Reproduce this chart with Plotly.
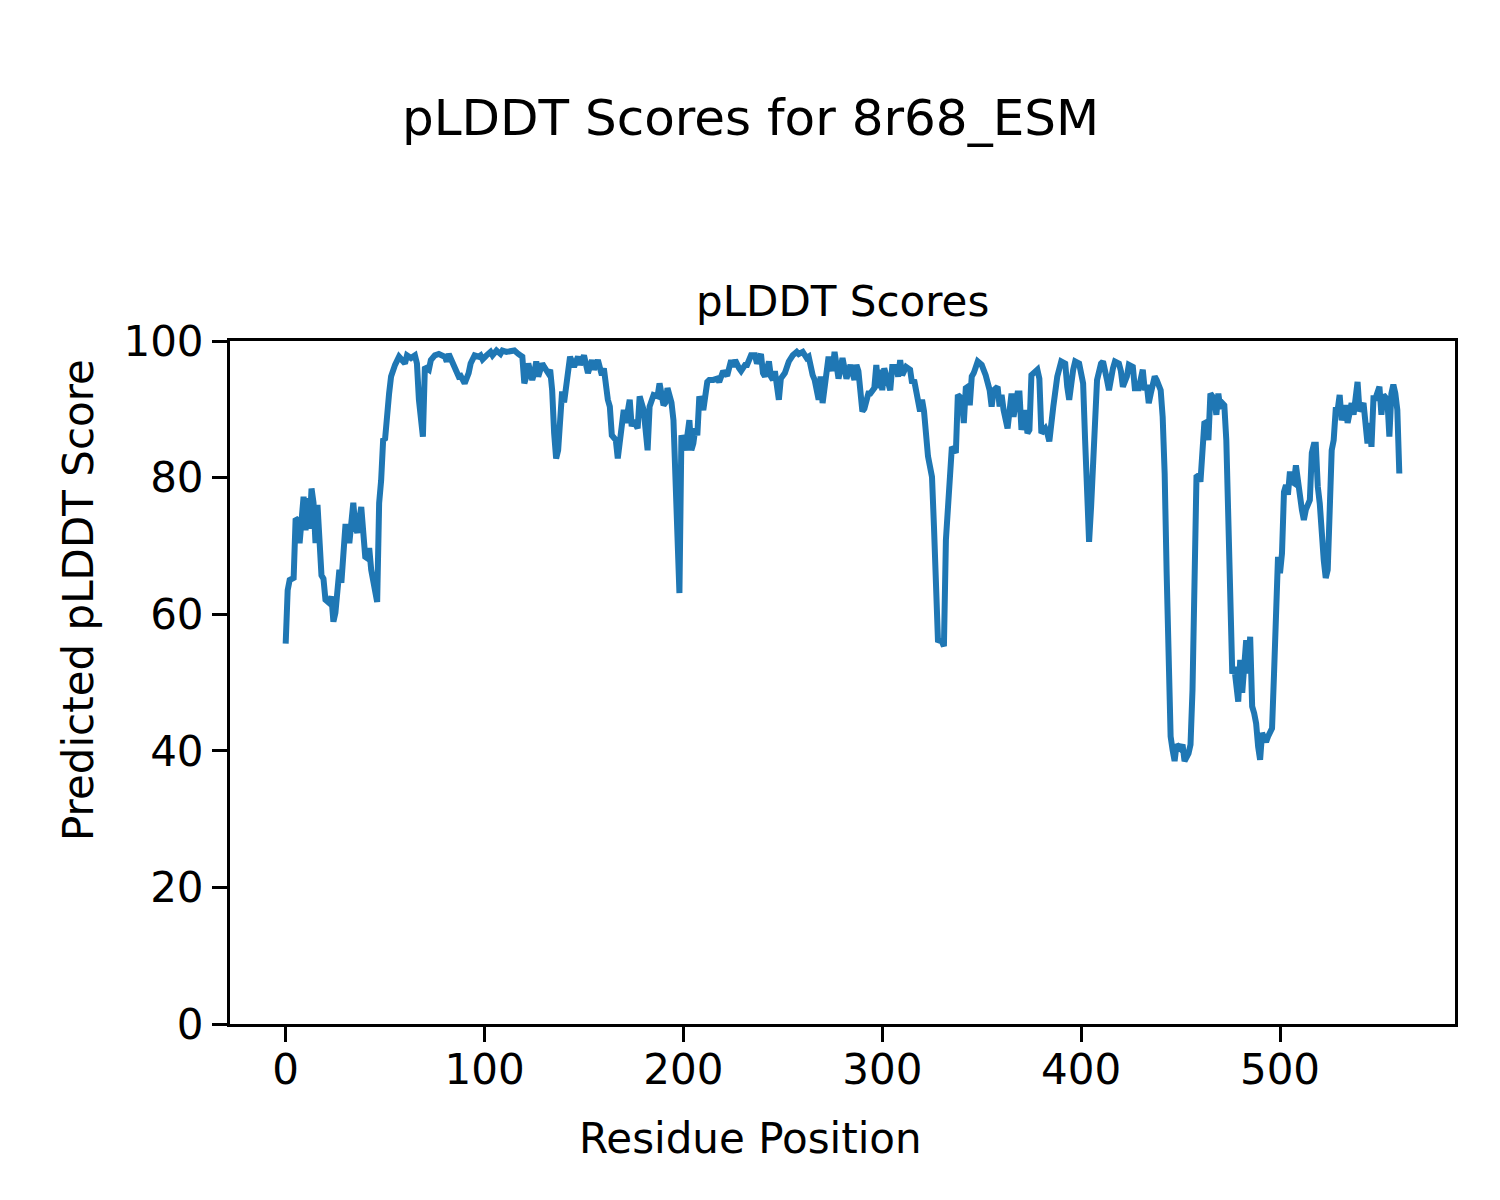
import plotly.graph_objects as go

# Data (residue position, pLDDT score)
residue_positions = [
    0, 1, 2, 4, 5, 6, 7, 8, 9, 10, 11, 12, 13, 14, 15, 16, 17, 18, 19, 20,
    22, 23, 24, 25, 27, 28, 30, 31, 32, 33, 34, 35, 36, 38, 39, 40, 41, 42, 43, 45,
    46, 47, 48, 49, 50, 52, 53, 55, 57, 60, 61, 63, 65, 66, 67, 69, 70, 72, 73, 75,
    77, 80, 81, 82, 83, 85, 86, 87, 88, 90, 92, 93, 95, 97, 98, 99, 101, 103, 104, 106,
    108, 109, 111, 113, 115, 117, 119, 120, 121, 122, 124, 125, 126, 127, 128, 129, 130, 132, 133, 134,
    135, 136, 137, 138, 139, 140, 141, 142, 143, 145, 147, 148, 150, 152, 154, 155, 157, 159, 160, 162,
    163, 164, 166, 167, 168, 170, 171, 172, 173, 174, 175, 177, 178, 180, 182, 183, 185, 187, 188, 190,
    191, 192, 194, 195, 196, 198, 199, 201, 202, 203, 204, 205, 206, 207, 208, 210, 212, 213, 215, 217,
    218, 220, 222, 224, 225, 226, 228, 229, 231, 232, 234, 236, 237, 239, 240, 241, 243, 244, 245, 246,
    248, 249, 251, 253, 255, 257, 258, 260, 262, 263, 265, 266, 268, 269, 270, 272, 273, 275, 276, 278,
    280, 282, 283, 284, 286, 287, 288, 290, 291, 293, 294, 296, 297, 298, 299, 300, 301, 303, 304, 305,
    307, 308, 309, 310, 312, 314, 315, 316, 319, 320, 321, 323, 325, 326, 328, 330, 331, 332, 333, 335,
    336, 337, 338, 340, 341, 342, 343, 344, 345, 346, 348, 350, 352, 354, 355, 356, 358, 359, 360, 361,
    363, 365, 366, 368, 369, 370, 372, 373, 374, 375, 378, 379, 380, 382, 383, 384, 386, 388, 390, 392,
    393, 394, 396, 397, 399, 401, 402, 403, 404, 405, 407, 408, 410, 411, 413, 414, 416, 417, 419, 420,
    421, 423, 424, 426, 427, 429, 431, 432, 433, 434, 435, 437, 438, 440, 441, 442, 443, 444, 445, 446,
    447, 448, 450, 451, 452, 454, 455, 456, 457, 458, 459, 460, 462, 463, 464, 465, 467, 468, 469, 470,
    471, 472, 473, 474, 476, 477, 478, 479, 480, 481, 483, 484, 485, 486, 487, 488, 489, 490, 491, 493,
    494, 495, 496, 497, 498, 499, 500, 501, 502, 503, 504, 505, 506, 507, 508, 509, 510, 511, 512, 513,
    515, 516, 517, 518, 519, 520, 522, 523, 524, 525, 526, 527, 528, 529, 530, 531, 533, 534, 536, 537,
    538, 539, 540, 542, 544, 545, 546, 547, 548, 550, 551, 552, 554, 555, 556, 557, 558, 559, 560,
]

plddt_scores = [
    55.7, 63.5, 65.0, 65.3, 74.0, 73.8, 70.4, 75.7, 77.2, 72.3, 77.0, 72.5, 78.4, 76.3, 70.4, 76.0, 71.0, 65.7, 65.2, 62.1,
    61.6, 62.6, 58.9, 60.2, 66.5, 64.6, 72.8, 72.8, 70.4, 74.3, 76.3, 72.8, 71.9, 75.7, 71.4, 68.4, 68.2, 69.7, 66.5, 63.1,
    61.8, 76.3, 79.6, 85.5, 85.7, 92.3, 94.8, 96.5, 97.7, 96.7, 97.9, 97.5, 97.9, 96.7, 91.4, 86.0, 96.2, 95.8, 97.2, 97.9,
    98.1, 97.7, 97.0, 98.1, 97.5, 95.8, 95.6, 94.8, 94.9, 93.8, 95.3, 96.7, 97.9, 97.7, 97.9, 97.3, 97.9, 98.4, 97.9, 98.6,
    98.1, 98.6, 98.4, 98.6, 98.6, 98.1, 97.7, 93.8, 94.8, 96.7, 94.3, 95.3, 97.0, 94.8, 96.2, 96.7, 96.2, 95.3, 95.8, 92.8,
    86.5, 82.8, 84.0, 90.4, 92.6, 91.0, 93.3, 96.2, 97.7, 96.2, 97.7, 96.5, 97.9, 95.3, 97.2, 95.8, 97.2, 95.0, 96.0, 91.4,
    90.4, 86.2, 85.5, 82.8, 85.5, 89.9, 88.0, 90.4, 91.4, 87.5, 88.4, 87.2, 91.9, 89.9, 84.0, 90.4, 92.1, 91.9, 93.8, 90.6,
    91.0, 93.1, 91.0, 88.4, 79.2, 63.1, 86.2, 84.0, 86.2, 88.4, 84.0, 85.0, 87.2, 86.2, 91.9, 89.9, 94.0, 94.3, 94.3, 94.5,
    94.0, 95.6, 94.9, 97.2, 96.2, 97.2, 96.0, 95.6, 96.5, 96.5, 97.9, 97.9, 96.7, 98.1, 95.3, 94.8, 97.0, 94.8, 94.3, 95.6,
    91.4, 94.5, 95.3, 97.0, 97.9, 98.4, 98.1, 98.4, 97.5, 97.7, 95.0, 94.3, 91.4, 94.8, 90.9, 95.8, 97.7, 95.6, 98.4, 94.5,
    97.5, 94.5, 95.7, 96.5, 94.3, 96.5, 95.6, 89.7, 90.1, 92.3, 92.3, 93.1, 96.5, 93.1, 95.8, 92.8, 96.0, 93.8, 92.8, 96.2,
    96.2, 94.8, 97.2, 95.0, 96.2, 95.8, 93.8, 94.3, 89.7, 91.4, 89.7, 83.1, 80.1, 72.8, 56.2, 56.0, 55.3, 70.9, 76.7, 84.5,
    84.1, 83.6, 92.1, 91.6, 88.0, 93.1, 93.3, 90.6, 94.8, 95.3, 97.0, 96.5, 95.0, 92.8, 90.4, 92.8, 93.3, 90.4, 92.1, 89.9,
    87.2, 92.3, 88.9, 92.3, 92.3, 87.0, 89.9, 86.5, 87.0, 95.0, 95.8, 94.5, 86.5, 87.2, 86.5, 85.3, 90.4, 94.8, 97.0, 96.7,
    93.3, 91.4, 95.8, 97.0, 96.7, 93.8, 85.5, 75.7, 70.6, 75.7, 86.5, 94.3, 96.7, 97.0, 94.3, 92.8, 96.0, 97.0, 96.7, 95.6,
    93.3, 94.8, 96.5, 96.2, 93.1, 93.1, 95.8, 92.8, 93.6, 90.9, 92.3, 94.8, 94.3, 92.8, 88.9, 80.6, 66.0, 51.3, 42.1, 40.1,
    38.5, 40.9, 40.3, 40.9, 38.5, 39.6, 40.9, 48.9, 61.1, 80.1, 80.3, 79.4, 88.2, 88.0, 85.5, 92.3, 91.5, 89.2, 92.3, 90.1,
    90.9, 90.6, 85.5, 75.7, 51.3, 52.3, 48.9, 47.2, 53.3, 48.5, 56.2, 51.3, 56.7, 46.5, 45.5, 44.0, 40.6, 38.7, 42.6, 41.3,
    42.1, 42.6, 43.3, 51.3, 57.7, 68.4, 66.0, 68.9, 77.9, 78.9, 77.5, 80.9, 79.4, 79.2, 81.8, 79.6, 76.2, 75.3, 73.8, 75.3,
    76.7, 83.6, 84.8, 84.8, 78.7, 76.2, 67.9, 65.3, 66.5, 78.2, 84.0, 85.5, 89.9, 89.9, 92.1, 88.4, 90.6, 88.0, 90.9, 89.2,
    91.0, 94.0, 89.7, 90.9, 85.0, 88.0, 84.5, 91.6, 91.6, 93.3, 89.2, 92.1, 91.4, 86.0, 92.3, 93.6, 92.3, 89.9, 80.6,
]

x_ticks = [0, 100, 200, 300, 400, 500]
y_ticks = [0, 20, 40, 60, 80, 100]

suptitle = "pLDDT Scores for 8r68_ESM"
axes_title = "pLDDT Scores"
x_label = "Residue Position"
y_label = "Predicted pLDDT Score"

FONT = "DejaVu Sans"
OFF = 8  # page body margin offset

# target plot area on screen: x 230..1455 px, y 341..1024 px
L, R, T, B = 230 - OFF, 1455 - OFF, 341 - OFF, 1024 - OFF

fig = go.Figure()
fig.add_trace(go.Scatter(
    x=residue_positions, y=plddt_scores, mode="lines",
    line=dict(color="#1f77b4", width=6), showlegend=False,
))

axis_common = dict(
    showline=True, mirror=True, linecolor="black", linewidth=3,
    ticks="outside", ticklen=15, tickwidth=3, tickcolor="black",
    showgrid=False, zeroline=False,
    tickfont=dict(family=FONT, size=42, color="black"),
)

fig.update_layout(
    width=1500, height=1200,
    paper_bgcolor="white", plot_bgcolor="white",
    margin=dict(l=L, r=1500 - R, t=T, b=1200 - B, autoexpand=False),
    xaxis=dict(range=[-28, 588], tickvals=x_ticks, ticklabelstandoff=-8, **axis_common),
    yaxis=dict(range=[0, 100], tickvals=y_ticks, ticklabelstandoff=0, **axis_common),
    font=dict(family=FONT, color="black"),
)

def px_x(p):
    return (p - OFF - L) / float(R - L)

def px_y(p):
    return (B - (p - OFF)) / float(B - T)

fig.add_annotation(text=suptitle, xref="paper", yref="paper",
                   x=px_x(750), y=px_y(118), showarrow=False,
                   xanchor="center", yanchor="middle",
                   font=dict(family=FONT, size=50, color="black"))
fig.add_annotation(text=axes_title, xref="paper", yref="paper",
                   x=px_x(842.5), y=px_y(302), showarrow=False,
                   xanchor="center", yanchor="middle",
                   font=dict(family=FONT, size=42, color="black"))
fig.add_annotation(text=x_label, xref="paper", yref="paper",
                   x=px_x(750), y=px_y(1138), showarrow=False,
                   xanchor="center", yanchor="middle",
                   font=dict(family=FONT, size=42, color="black"))
fig.add_annotation(text=y_label, xref="paper", yref="paper",
                   x=px_x(78), y=px_y(600), showarrow=False,
                   xanchor="center", yanchor="middle", textangle=-90,
                   font=dict(family=FONT, size=42, color="black"))

fig.write_html("out.html")
